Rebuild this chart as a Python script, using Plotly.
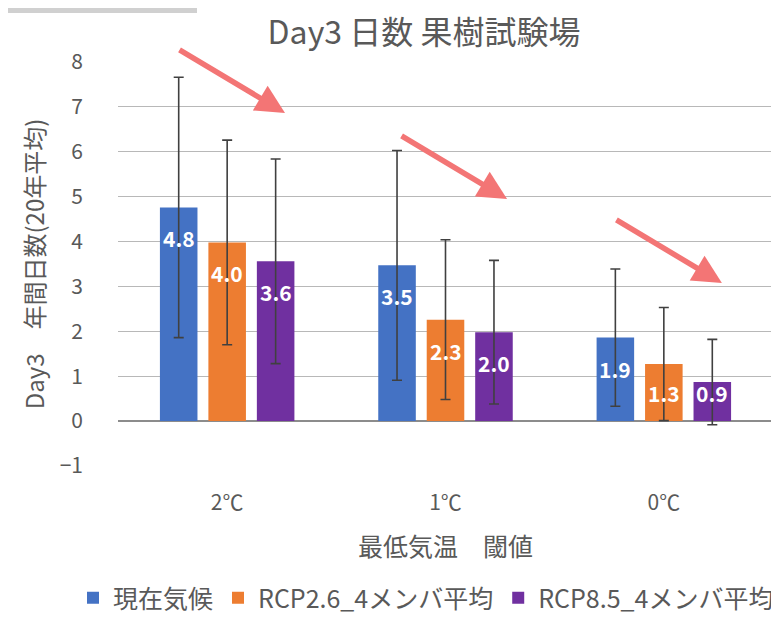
import plotly.graph_objects as go

categories = ["2℃", "1℃", "0℃"]
series_names = ["現在気候", "RCP2.6_4メンバ平均", "RCP8.5_4メンバ平均"]
current = [4.76, 3.47, 1.86]
rcp26 = [3.98, 2.26, 1.27]
rcp85 = [3.56, 1.98, 0.87]
err_current = [2.90, 2.56, 1.53]
err_rcp26 = [2.28, 1.78, 1.26]
err_rcp85 = [2.28, 1.60, 0.95]
colors = ["#4472C4", "#ED7D31", "#7030A0"]

title_text = "Day3 日数 果樹試験場"
y_title = "Day3　年間日数(20年平均)"
x_title = "最低気温　閾値"

FONT = "Noto Sans CJK JP, Noto Sans, sans-serif"
GREY = "#595959"

BAR_W = 0.172
SPACING = 0.222

W, H = 771, 640  # page body has an 8px margin (figure starts at 8,8)
ML, MT, MB, MR = 110, 54, 182, 6
PW, PH = W - ML - MR, H - MT - MB

fig = go.Figure()
all_vals = [current, rcp26, rcp85]
all_err = [err_current, err_rcp26, err_rcp85]
for k, (name, vals, errs, col) in enumerate(zip(series_names, all_vals, all_err, colors)):
    center = (k - 1) * SPACING
    fig.add_trace(go.Bar(
        name=name, x=categories, y=vals,
        width=BAR_W, offset=center - BAR_W / 2,
        marker=dict(color=col, line=dict(width=0)),
        error_y=dict(type="data", array=errs, visible=True,
                     color="#404040", thickness=1.6, width=5),
    ))
    for i, v in enumerate(vals):
        fig.add_annotation(
            x=i + center, y=max(v - 0.69, 0.62), xref="x", yref="y",
            text=f"<b>{v:.1f}</b>", showarrow=False,
            font=dict(family=FONT, size=21, color="white"),
            xanchor="center", yanchor="middle",
        )

# decorative red arrows (tip in paper coords, tail offset in px)
for tx, ty in [(0.255, 0.874), (0.594, 0.661), (0.922, 0.453)]:
    fig.add_annotation(
        x=tx, y=ty, xref="paper", yref="paper",
        ax=-107, ay=-64, axref="pixel", ayref="pixel",
        showarrow=True, arrowhead=2, arrowsize=1.05, arrowwidth=5.5,
        arrowcolor="#F37575", text="", standoff=0,
    )

# grey strip top-left
fig.add_shape(type="rect", xref="paper", yref="paper",
              x0=-0.2, x1=0.1206, y0=1.121, y1=1.14,
              fillcolor="#D0D0D0", line=dict(width=0), layer="above")

fig.update_layout(
    width=W, height=H,
    margin=dict(l=ML, r=MR, t=MT, b=MB),
    paper_bgcolor="white", plot_bgcolor="white",
    font=dict(family=FONT, color=GREY, size=21),
    title=dict(text=title_text, x=(424 - 8) / W, xref="container", xanchor="center",
               y=1 - (33 - 8) / H, yref="container", yanchor="middle",
               font=dict(family=FONT, size=32, color=GREY)),
    showlegend=True,
    legend=dict(orientation="h", x=(82 - ML) / PW, xref="paper", xanchor="left",
                y=(PH - (598 - 8 - MT)) / PH, yref="paper", yanchor="middle",
                font=dict(family=FONT, size=25, color=GREY),
                itemwidth=30, tracegroupgap=0),
)
fig.update_xaxes(
    type="category", showgrid=False, showline=False, ticks="",
    tickfont=dict(size=21, color=GREY), ticklabelstandoff=22,
    title=dict(text=x_title, font=dict(size=25, color=GREY), standoff=23),
    automargin=False,
)
fig.update_yaxes(
    range=[-1, 8], dtick=1, tick0=0,
    showgrid=True, gridcolor="#B8B8B8", gridwidth=1.3,
    zeroline=True, zerolinecolor="#8C8C8C", zerolinewidth=1.5,
    showline=False, ticks="",
    tickfont=dict(size=21, color=GREY), ticklabelstandoff=34,
    title=dict(text=y_title, font=dict(size=24, color=GREY), standoff=8),
    automargin=False,
)

fig.write_html("out.html")
